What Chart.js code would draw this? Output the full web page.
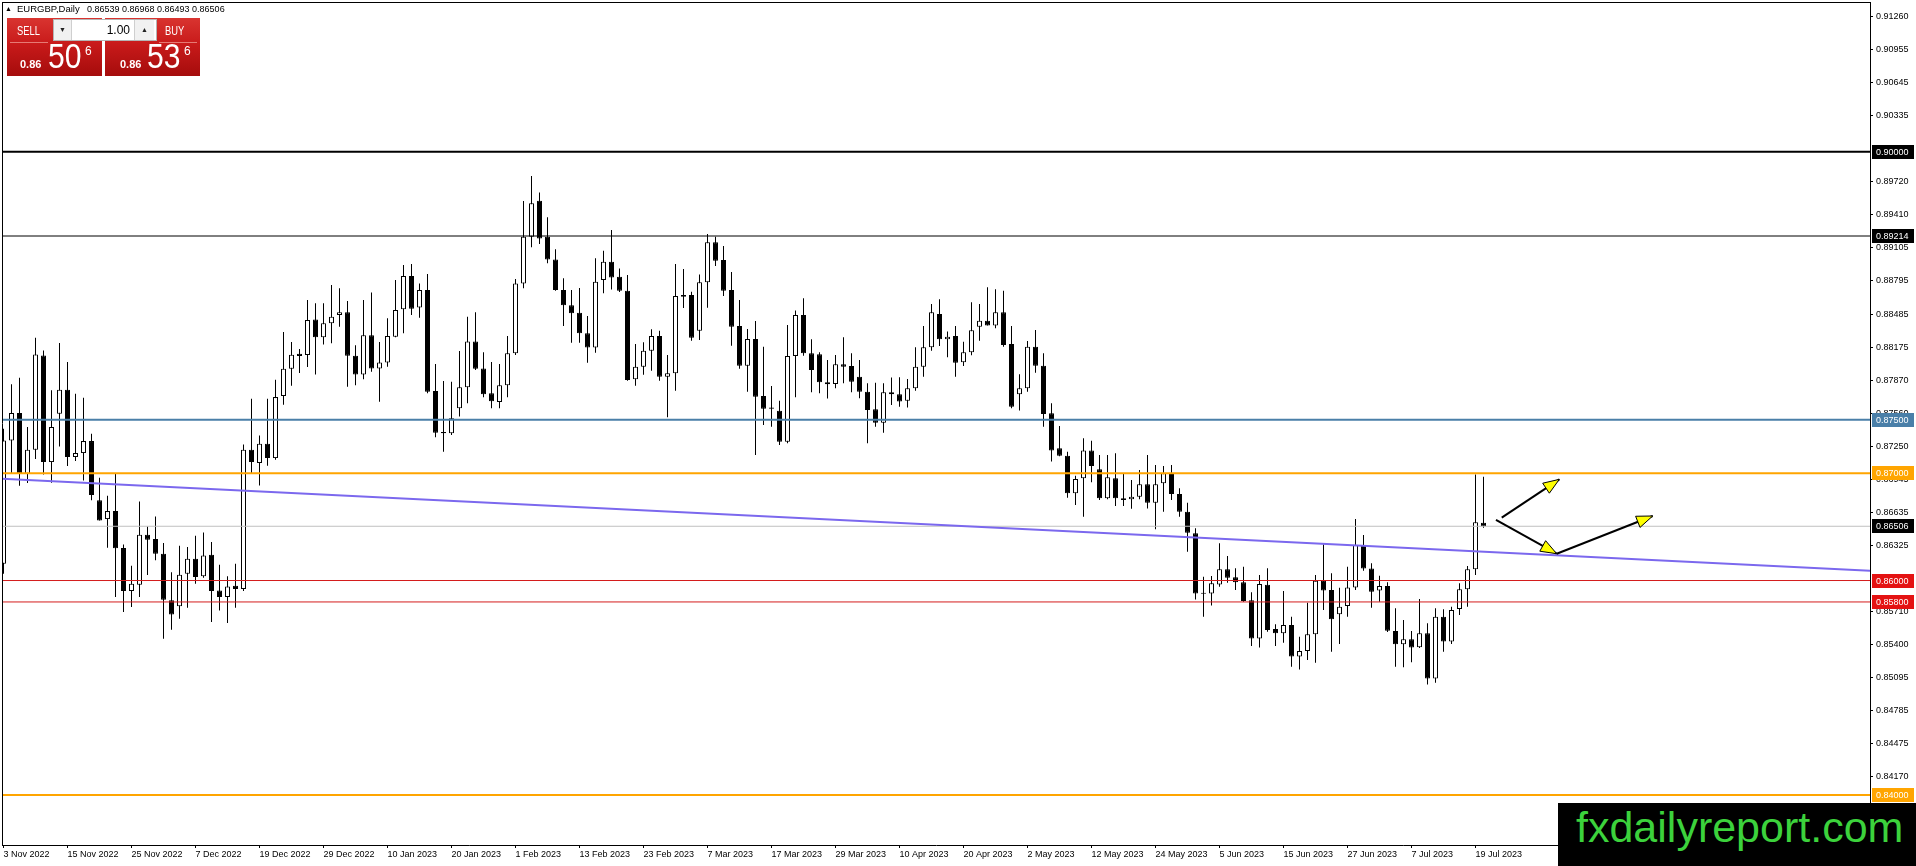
<!DOCTYPE html>
<html>
<head>
<meta charset="utf-8">
<title>EURGBP Daily</title>
<script src="https://cdn.jsdelivr.net/npm/chart.js@4.4.0/dist/chart.umd.min.js"></script>
<style>
  html, body { margin: 0; padding: 0; background: #fff; overflow: hidden; }
  #wrap { position: relative; width: 1916px; height: 866px; font-family: 'Liberation Sans', Arial, sans-serif; }
  #chart { position: absolute; left: 0; top: 0; }
  .abs { position: absolute; white-space: pre; }
  .hdr { top: 4px; font-size: 9px; line-height: 10px; color: #000; }
  .pnl { top: 18px; width: 95px; height: 58px; background: linear-gradient(#d93430, #c81a1a 45%, #a50c0c); }
  .lbl { top: 25px; font-size: 12px; line-height: 12px; color: #fff; transform: scaleX(0.78); transform-origin: left; }
  .sep { top: 42px; width: 38px; height: 1px; background: #e67a74; }
  .ctl { left: 53px; top: 19px; width: 102px; height: 20px; background: #fff; border: 1px solid #b5b5b5; }
  .btn { top: 0; width: 17px; height: 20px; background: #f1f1f1; font-size: 7px; line-height: 20px; text-align: center; color: #222; }
  .lot { right: 26px; top: 3px; font-size: 12px; line-height: 14px; color: #000; }
  .sm { top: 59px; font-size: 11px; line-height: 11px; font-weight: bold; color: #fff; }
  .big { top: 38px; font-size: 35px; line-height: 35px; color: #fff; transform: scaleX(0.86); transform-origin: left; }
  .sup { top: 45px; font-size: 12px; line-height: 12px; color: #fff; }
  .wm { left: 1558px; top: 803px; width: 358px; height: 63px; background: #000; }
  .wmt { left: 18px; top: 3px; font-size: 43px; line-height: 43px; color: #3cd23c; }
</style>
</head>
<body>
<div id="wrap">
  <canvas id="chart" width="1916" height="866"></canvas>

  <div class="abs hdr" style="left:5px;font-size:7px;">▲</div>
  <div class="abs hdr" style="left:17px;font-size:9.5px;">EURGBP,Daily</div>
  <div class="abs hdr" style="left:87px;">0.86539 0.86968 0.86493 0.86506</div>

  <div class="abs pnl" style="left:7px;"></div>
  <div class="abs pnl" style="left:105px;"></div>
  <div class="abs lbl" style="left:17px;">SELL</div>
  <div class="abs lbl" style="left:165px;">BUY</div>
  <div class="abs sep" style="left:10px;"></div>
  <div class="abs sep" style="left:159px;"></div>
  <div class="abs ctl">
    <div class="abs btn" style="left:0;border-right:1px solid #cfcfcf;">▼</div>
    <div class="abs lot">1.00</div>
    <div class="abs btn" style="left:80px;width:19px;border-left:1px solid #cfcfcf;">▲</div>
  </div>
  <div class="abs sm" style="left:20px;">0.86</div>
  <div class="abs big" style="left:48px;">50</div>
  <div class="abs sup" style="left:85px;">6</div>
  <div class="abs sm" style="left:120px;">0.86</div>
  <div class="abs big" style="left:147px;">53</div>
  <div class="abs sup" style="left:184px;">6</div>

  <div class="abs wm"><div class="abs wmt">fxdailyreport.com</div></div>
</div>

<script>
// daily candles, 3 Nov 2022 .. 20 Jul 2023 (bar index 0..185)
const openP = [
  0.86157, 0.87307, 0.87562, 0.86996, 0.87220, 0.88100, 0.87105, 0.87556, 0.87780, 0.87152,
  0.87189, 0.87301, 0.86748, 0.86573, 0.86648, 0.86303, 0.85902, 0.85961, 0.86427, 0.86387,
  0.86250, 0.85815, 0.85759, 0.86063, 0.86203, 0.86039, 0.86240, 0.85908, 0.85846, 0.85951,
  0.85920, 0.87220, 0.87096, 0.87276, 0.87142, 0.87721, 0.87976, 0.88116, 0.88104, 0.88436,
  0.88269, 0.88399, 0.88477, 0.88502, 0.88098, 0.87923, 0.88287, 0.87979, 0.88035, 0.88275,
  0.88530, 0.88841, 0.88548, 0.88710, 0.87768, 0.87385, 0.87373, 0.87606, 0.87802, 0.88231,
  0.87979, 0.87746, 0.87665, 0.87821, 0.88120, 0.88772, 0.89208, 0.89544, 0.89208, 0.88996,
  0.88710, 0.88567, 0.88499, 0.88306, 0.88175, 0.88804, 0.88975, 0.88835, 0.88704, 0.87877,
  0.87995, 0.88144, 0.88281, 0.87902, 0.87933, 0.88664, 0.88664, 0.88330, 0.88782, 0.89155,
  0.88990, 0.88710, 0.88374, 0.88004, 0.88253, 0.87721, 0.87615, 0.87584, 0.87295, 0.88095,
  0.88477, 0.88120, 0.88110, 0.87849, 0.87833, 0.88017, 0.88001, 0.87902, 0.87762, 0.87597,
  0.87473, 0.87756, 0.87737, 0.87678, 0.87793, 0.87995, 0.88176, 0.88487, 0.88250, 0.88281,
  0.88036, 0.88129, 0.88368, 0.88424, 0.88378, 0.88502, 0.88207, 0.87737, 0.87793, 0.88182,
  0.88004, 0.87560, 0.87233, 0.87165, 0.86813, 0.86953, 0.87212, 0.87037, 0.86767, 0.86953,
  0.86767, 0.86757, 0.86782, 0.86897, 0.86726, 0.86907, 0.86994, 0.86807, 0.86642, 0.86440,
  0.85883, 0.85880, 0.85964, 0.86104, 0.86030, 0.85983, 0.85815, 0.85458, 0.85961, 0.85548,
  0.85507, 0.85585, 0.85290, 0.85342, 0.85498, 0.85999, 0.85912, 0.85685, 0.85762, 0.85936,
  0.86322, 0.86111, 0.85908, 0.85949, 0.85529, 0.85405, 0.85451, 0.85377, 0.85507, 0.85087,
  0.85663, 0.85430, 0.85734, 0.85918, 0.86104, 0.86539
];
const highP = [
  0.87416, 0.87830, 0.87892, 0.87432, 0.88265, 0.88147, 0.87774, 0.88215, 0.88038, 0.87743,
  0.87705, 0.87370, 0.86959, 0.86791, 0.86996, 0.86337, 0.86138, 0.86738, 0.86505, 0.86598,
  0.86350, 0.86076, 0.86325, 0.86312, 0.86418, 0.86449, 0.86359, 0.86147, 0.86039, 0.86157,
  0.87270, 0.87696, 0.87354, 0.87696, 0.87873, 0.88318, 0.88225, 0.88160, 0.88617, 0.88586,
  0.88586, 0.88757, 0.88726, 0.88608, 0.88194, 0.88617, 0.88688, 0.88225, 0.88446, 0.88804,
  0.88943, 0.88953, 0.88772, 0.88860, 0.88020, 0.87861, 0.87855, 0.88141, 0.88461, 0.88502,
  0.88129, 0.88039, 0.88020, 0.88281, 0.88813, 0.89541, 0.89774, 0.89620, 0.89390, 0.89090,
  0.88819, 0.88710, 0.88729, 0.88468, 0.89006, 0.89077, 0.89270, 0.88912, 0.88850, 0.88206,
  0.88222, 0.88343, 0.88331, 0.88104, 0.88953, 0.88906, 0.88695, 0.88856, 0.89233, 0.89208,
  0.89121, 0.88878, 0.88617, 0.88346, 0.88421, 0.88182, 0.87815, 0.87678, 0.88384, 0.88518,
  0.88633, 0.88250, 0.88130, 0.88057, 0.88104, 0.88269, 0.88120, 0.88057, 0.87840, 0.87846,
  0.87840, 0.87893, 0.87896, 0.87880, 0.88176, 0.88375, 0.88580, 0.88623, 0.88322, 0.88375,
  0.88228, 0.88595, 0.88580, 0.88735, 0.88717, 0.88704, 0.88375, 0.87924, 0.88235, 0.88337,
  0.88120, 0.87653, 0.87442, 0.87202, 0.86978, 0.87327, 0.87305, 0.87171, 0.87171, 0.87187,
  0.86999, 0.86938, 0.87030, 0.87171, 0.87078, 0.87068, 0.87078, 0.86860, 0.86726, 0.86487,
  0.86036, 0.86042, 0.86347, 0.86229, 0.86114, 0.86129, 0.85890, 0.86051, 0.86114, 0.85591,
  0.85902, 0.85663, 0.85476, 0.85793, 0.86051, 0.86338, 0.86067, 0.85933, 0.86129, 0.86574,
  0.86425, 0.86160, 0.86045, 0.85983, 0.85741, 0.85632, 0.85529, 0.85827, 0.85601, 0.85741,
  0.85731, 0.85756, 0.85974, 0.86136, 0.86990, 0.86968
];
const lowP = [
  0.86063, 0.86996, 0.86884, 0.86909, 0.87133, 0.86990, 0.86912, 0.87251, 0.87068, 0.87114,
  0.86934, 0.86748, 0.86560, 0.86306, 0.85846, 0.85706, 0.85753, 0.85846, 0.86051, 0.86188,
  0.85457, 0.85541, 0.85644, 0.85746, 0.85970, 0.86026, 0.85613, 0.85721, 0.85603, 0.85746,
  0.85902, 0.87002, 0.86887, 0.87071, 0.87127, 0.87640, 0.87817, 0.87936, 0.87992, 0.87923,
  0.88203, 0.88213, 0.88368, 0.87808, 0.87821, 0.87877, 0.87948, 0.87668, 0.87995, 0.88269,
  0.88306, 0.88477, 0.88452, 0.87746, 0.87336, 0.87202, 0.87357, 0.87529, 0.87653, 0.87964,
  0.87709, 0.87606, 0.87606, 0.87709, 0.88104, 0.88726, 0.89108, 0.89140, 0.88959, 0.88704,
  0.88374, 0.88219, 0.88219, 0.88032, 0.88126, 0.88679, 0.88716, 0.88692, 0.87864, 0.87818,
  0.87920, 0.87958, 0.87864, 0.87522, 0.87771, 0.88542, 0.88238, 0.88244, 0.88545, 0.88934,
  0.88654, 0.88191, 0.87976, 0.87760, 0.87171, 0.87451, 0.87435, 0.87264, 0.87280, 0.87709,
  0.88098, 0.87756, 0.87746, 0.87697, 0.87793, 0.87840, 0.87756, 0.87700, 0.87280, 0.87435,
  0.87379, 0.87638, 0.87622, 0.87613, 0.87771, 0.87902, 0.88144, 0.88188, 0.88082, 0.87902,
  0.88001, 0.88101, 0.88238, 0.88378, 0.88353, 0.88182, 0.87606, 0.87585, 0.87762, 0.87939,
  0.87435, 0.87110, 0.87160, 0.86773, 0.86705, 0.86596, 0.86916, 0.86751, 0.86757, 0.86695,
  0.86695, 0.86670, 0.86757, 0.86673, 0.86478, 0.86642, 0.86751, 0.86596, 0.86269, 0.85824,
  0.85663, 0.85768, 0.85943, 0.85980, 0.85912, 0.85803, 0.85389, 0.85374, 0.85523, 0.85389,
  0.85420, 0.85196, 0.85171, 0.85258, 0.85234, 0.85725, 0.85336, 0.85408, 0.85663, 0.85912,
  0.86092, 0.85747, 0.85803, 0.85520, 0.85196, 0.85190, 0.85237, 0.85370, 0.85031, 0.85047,
  0.85336, 0.85408, 0.85678, 0.85756, 0.86051, 0.86493
];
const closeP = [
  0.87307, 0.87562, 0.86996, 0.87220, 0.88109, 0.87105, 0.87432, 0.87780, 0.87152, 0.87189,
  0.87301, 0.86797, 0.86561, 0.86648, 0.86300, 0.85902, 0.85970, 0.86427, 0.86381, 0.86250,
  0.85821, 0.85684, 0.86054, 0.86203, 0.86032, 0.86234, 0.85902, 0.85846, 0.85945, 0.85920,
  0.87220, 0.87105, 0.87276, 0.87142, 0.87711, 0.87976, 0.88106, 0.88094, 0.88430, 0.88269,
  0.88399, 0.88461, 0.88502, 0.88098, 0.87923, 0.88287, 0.87979, 0.88035, 0.88281, 0.88524,
  0.88841, 0.88536, 0.88710, 0.87760, 0.87379, 0.87373, 0.87513, 0.87802, 0.88231, 0.87976,
  0.87737, 0.87672, 0.87821, 0.88120, 0.88772, 0.89208, 0.89519, 0.89190, 0.88996, 0.88710,
  0.88567, 0.88493, 0.88306, 0.88175, 0.88788, 0.88975, 0.88828, 0.88704, 0.87870, 0.87995,
  0.88144, 0.88281, 0.87902, 0.87933, 0.88654, 0.88648, 0.88265, 0.88782, 0.89155, 0.88984,
  0.88704, 0.88368, 0.88004, 0.88253, 0.87715, 0.87603, 0.87603, 0.87295, 0.88094, 0.88477,
  0.88120, 0.87964, 0.87849, 0.87830, 0.88017, 0.87995, 0.87855, 0.87762, 0.87590, 0.87473,
  0.87756, 0.87737, 0.87669, 0.87793, 0.87995, 0.88176, 0.88502, 0.88250, 0.88275, 0.88032,
  0.88129, 0.88334, 0.88424, 0.88378, 0.88502, 0.88197, 0.87622, 0.87793, 0.88182, 0.88004,
  0.87554, 0.87212, 0.87165, 0.86813, 0.86947, 0.87212, 0.87068, 0.86767, 0.86963, 0.86767,
  0.86751, 0.86782, 0.86897, 0.86726, 0.86897, 0.87000, 0.86807, 0.86642, 0.86446, 0.85880,
  0.85877, 0.85974, 0.86104, 0.86026, 0.85983, 0.85809, 0.85458, 0.85968, 0.85538, 0.85507,
  0.85585, 0.85290, 0.85342, 0.85498, 0.85999, 0.85906, 0.85638, 0.85756, 0.85936, 0.86331,
  0.86111, 0.85896, 0.85949, 0.85532, 0.85405, 0.85451, 0.85374, 0.85507, 0.85087, 0.85663,
  0.85430, 0.85725, 0.85918, 0.86104, 0.86543, 0.86506
];

// time axis: bar index of each label and its text
const xTickBars = [0, 8, 16, 24, 32, 40, 48, 56, 64, 72, 80, 88, 96, 104, 112, 120, 128, 136, 144, 152, 160, 168, 176, 184];
const xTickText = [
  '3 Nov 2022', '15 Nov 2022', '25 Nov 2022', '7 Dec 2022', '19 Dec 2022', '29 Dec 2022',
  '10 Jan 2023', '20 Jan 2023', '1 Feb 2023', '13 Feb 2023', '23 Feb 2023', '7 Mar 2023',
  '17 Mar 2023', '29 Mar 2023', '10 Apr 2023', '20 Apr 2023', '2 May 2023', '12 May 2023',
  '24 May 2023', '5 Jun 2023', '15 Jun 2023', '27 Jun 2023', '7 Jul 2023', '19 Jul 2023'
];

// price axis ticks
const yTicks = [
  0.91260, 0.90955, 0.90645, 0.90335, 0.89720, 0.89410, 0.89105, 0.88795, 0.88485, 0.88175,
  0.87870, 0.87560, 0.87250, 0.86945, 0.86635, 0.86325, 0.85710, 0.85400, 0.85095, 0.84785,
  0.84475, 0.84170
];

// horizontal levels (the grey one is the bid line)
const levelPrices = [0.90000, 0.89214, 0.87500, 0.87000, 0.86506, 0.86000, 0.85800, 0.84000];

// trendline and the three arrows, in bar index / price
const trendX = [-0.1875, 233.3125];
const trendY = [0.86950, 0.86092];
const arrowX = [[187.28, 194.48], [186.56, 194.15], [194.15, 206.15]];
const arrowY = [[0.86586, 0.86944], [0.86565, 0.86250], [0.86250, 0.86602]];

// view window
const xMin = -0.1875, xMax = 233.3125;
const yMin = 0.835326, yMax = 0.913971;

// look of the levels
const levelStyle = [
  { line: '#000000', width: 2, tag: '#000000' },
  { line: '#000000', width: 1, tag: '#000000' },
  { line: '#4a7fa8', width: 2, tag: '#4a7fa8' },
  { line: '#ffa500', width: 2, tag: '#ffa500' },
  { line: '#c0c0c0', width: 1, tag: '#000000' },
  { line: '#d41c1c', width: 1, tag: '#e41212' },
  { line: '#d41c1c', width: 1, tag: '#e41212' },
  { line: '#ffa500', width: 2, tag: '#ffa500' }
];

Chart.defaults.font.family = "'Liberation Sans', Arial, sans-serif";
Chart.defaults.font.size = 9;
Chart.defaults.color = '#000';

const wickData = openP.map((o, i) => ({ x: i, y: [lowP[i], highP[i]] }));
const bodyData = openP.map((o, i) => ({ x: i, y: [o, closeP[i]] }));
const bodyFill = openP.map((o, i) => closeP[i] > o ? '#ffffff' : '#000000');

const levelSets = levelPrices.map((p, k) => ({
  type: 'line',
  data: [{ x: xMin, y: p }, { x: xMax, y: p }],
  borderColor: levelStyle[k].line,
  borderWidth: levelStyle[k].width,
  pointRadius: 0,
  order: 1
}));

const arrowSets = arrowX.map((xs, k) => ({
  type: 'line',
  data: [{ x: xs[0], y: arrowY[k][0] }, { x: xs[1], y: arrowY[k][1] }],
  borderColor: '#000',
  borderWidth: 2,
  pointRadius: 0,
  order: 0
}));

// frame, arrow heads and price tags
const extras = {
  id: 'extras',
  afterDatasetsDraw(chart) {
    const ctx = chart.ctx, xs = chart.scales.x, ys = chart.scales.y;
    ctx.save();
    arrowX.forEach((a, k) => {
      const x0 = xs.getPixelForValue(a[0]), y0 = ys.getPixelForValue(arrowY[k][0]);
      const x1 = xs.getPixelForValue(a[1]), y1 = ys.getPixelForValue(arrowY[k][1]);
      const len = Math.hypot(x1 - x0, y1 - y0), ux = (x1 - x0) / len, uy = (y1 - y0) / len;
      const bx = x1 - ux * 16, by = y1 - uy * 16;
      ctx.beginPath();
      ctx.moveTo(x1, y1);
      ctx.lineTo(bx - uy * 6, by + ux * 6);
      ctx.lineTo(bx + uy * 6, by - ux * 6);
      ctx.closePath();
      ctx.fillStyle = '#ffff00';
      ctx.fill();
      ctx.lineWidth = 1;
      ctx.strokeStyle = '#000';
      ctx.stroke();
    });
    ctx.restore();
  },
  afterDraw(chart) {
    const ctx = chart.ctx, a = chart.chartArea, ys = chart.scales.y;
    ctx.save();
    ctx.strokeStyle = '#000';
    ctx.lineWidth = 1;
    ctx.beginPath();
    ctx.moveTo(a.left + 0.5, a.top);
    ctx.lineTo(a.left + 0.5, a.bottom);
    ctx.moveTo(a.left, a.top + 0.5);
    ctx.lineTo(a.right, a.top + 0.5);
    ctx.stroke();

    ctx.font = "9px 'Liberation Sans', Arial, sans-serif";
    ctx.textBaseline = 'middle';
    levelPrices.forEach((p, k) => {
      const y = Math.round(ys.getPixelForValue(p));
      ctx.fillStyle = levelStyle[k].tag;
      ctx.fillRect(a.right + 2, y - 7, 42, 14);
      ctx.fillStyle = '#fff';
      ctx.fillText(p.toFixed(5), a.right + 6, y + 1);
    });
    ctx.restore();
  }
};

new Chart(document.getElementById('chart'), {
  type: 'bar',
  data: {
    datasets: [
      ...arrowSets,
      {
        type: 'line',
        data: [{ x: trendX[0], y: trendY[0] }, { x: trendX[1], y: trendY[1] }],
        borderColor: '#7b68ee',
        borderWidth: 2,
        pointRadius: 0,
        order: 1
      },
      ...levelSets,
      {
        data: bodyData,
        backgroundColor: bodyFill,
        borderColor: '#000',
        borderWidth: 1,
        borderSkipped: false,
        barThickness: 5,
        minBarLength: 1,
        inflateAmount: 0,
        grouped: false,
        order: 2
      },
      {
        data: wickData,
        backgroundColor: '#000',
        borderWidth: 0,
        barThickness: 1,
        inflateAmount: 0,
        grouped: false,
        order: 3
      }
    ]
  },
  options: {
    responsive: false,
    devicePixelRatio: 1,
    animation: false,
    events: [],
    layout: { padding: { left: 2, top: 2, right: 0, bottom: 0 } },
    plugins: { legend: { display: false }, tooltip: { enabled: false } },
    scales: {
      x: {
        type: 'linear',
        min: xMin,
        max: xMax,
        offset: false,
        grid: { display: true, drawOnChartArea: false, drawTicks: true, tickLength: 3, color: '#000', offset: false },
        border: { display: true, color: '#000', width: 1 },
        ticks: {
          autoSkip: false, maxRotation: 0, minRotation: 0, align: 'start', padding: 1,
          callback: (v, k) => xTickText[k]
        },
        afterBuildTicks: s => { s.ticks = xTickBars.map(v => ({ value: v })); },
        afterFit: s => { s.height = 21; s.paddingLeft = 0; s.paddingRight = 0; }
      },
      y: {
        type: 'linear',
        position: 'right',
        min: yMin,
        max: yMax,
        beginAtZero: false,
        grid: { display: true, drawOnChartArea: false, drawTicks: true, tickLength: 3, color: '#000' },
        border: { display: true, color: '#000', width: 1 },
        ticks: { padding: 3, callback: v => v.toFixed(5) },
        afterBuildTicks: s => { s.ticks = yTicks.map(v => ({ value: v })); },
        afterFit: s => { s.width = 46; s.paddingTop = 0; s.paddingBottom = 0; }
      }
    }
  },
  plugins: [extras]
});
</script>
</body>
</html>
